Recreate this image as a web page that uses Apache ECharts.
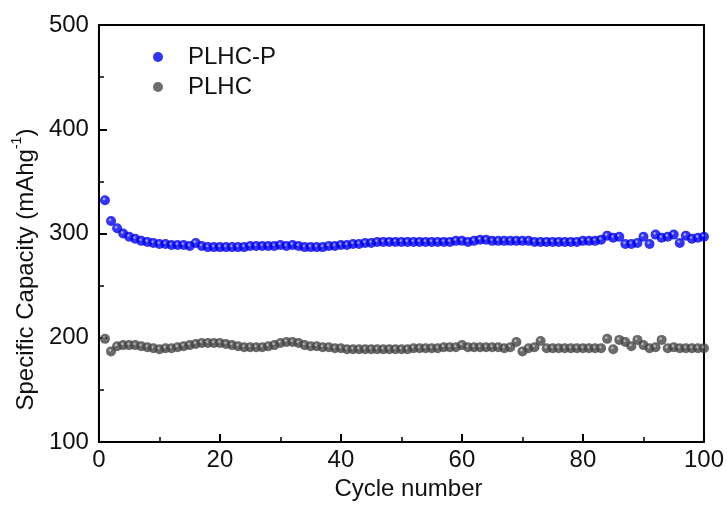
<!DOCTYPE html>
<html>
<head>
<meta charset="utf-8">
<script src="https://cdn.jsdelivr.net/npm/echarts@6/dist/echarts.min.js"></script>
<style>html,body{margin:0;padding:0;background:#fff;}#c{width:727px;height:506px;}</style>
</head>
<body>
<div id="c"></div>
<script>
const cycles = Array.from({length: 100}, (_, i) => i + 1);
const plhcP = [332,312,305,300,297,295,293,292,291,290,
290,289,289,289,288,291,288,287,287,287,
287,287,287,287,288,288,288,288,288,289,
288,289,288,287,287,287,287,288,288,289,
289,290,290,291,291,292,292,292,292,292,
292,292,292,292,292,292,292,292,293,293,
292,293,294,294,293,293,293,293,293,293,
293,292,292,292,292,292,292,292,292,293,
293,293,294,298,296,297,290,290,291,297,
290,299,296,297,299,291,298,295,296,297];
const plhc = [199,187,192,193,193,193,192,191,190,189,
190,190,191,192,193,194,195,195,195,195,
194,193,192,191,191,191,191,192,193,195,
196,196,195,193,192,192,191,191,190,190,
189,189,189,189,189,189,189,189,189,189,
189,190,190,190,190,190,191,191,191,193,
191,191,191,191,191,191,190,191,196,187,
190,191,197,190,190,190,190,190,190,190,
190,190,190,199,189,198,196,192,198,193,
190,191,198,190,191,190,190,190,190,190];
const xTicks = [0,20,40,60,80,100];
const yTicks = [100,200,300,400,500];

function ball(c1, c2) {
  return {type:'radial', x:0.4, y:0.38, r:0.65,
    colorStops:[{offset:0,color:c1},{offset:0.3,color:c2},{offset:1,color:c2}]};
}
const blueBall = ball('#c0c0ff', '#0000f0');
const grayBall = ball('#d0d0d0', '#444444');

const chart = echarts.init(document.getElementById('c'));
const font = 'Liberation Sans, Arial, sans-serif';
chart.setOption({
  animation: false,
  backgroundColor: '#fff',
  grid: {left: 95, right: 23, top: 25, bottom: 58, show: true, borderColor: '#000', borderWidth: 2, backgroundColor: 'transparent'},
  legend: {
    orient: 'vertical', left: 148, top: 40, itemGap: 6,
    itemWidth: 10, itemHeight: 10,
    textStyle: {fontFamily: font, fontSize: 24, color: '#111', padding: [0,0,0,20]},
    data: [
      {name: 'PLHC-P', icon: 'circle', itemStyle: {color: '#0000f0'}},
      {name: 'PLHC', icon: 'circle', itemStyle: {color: '#4a4a4a'}}
    ]
  },
  xAxis: {
    type: 'value', min: 0, max: 100, interval: 20,
    name: 'Cycle number', nameLocation: 'middle', nameGap: 34,
    nameTextStyle: {fontFamily: font, fontSize: 24, color: '#111', padding: [0,0,0,14]},
    axisLine: {lineStyle: {color: '#000', width: 2}},
    axisTick: {inside: true, length: 8, lineStyle: {color: '#000', width: 2}},
    minorTick: {show: true, splitNumber: 2, length: 5, lineStyle: {color: '#000', width: 1.5}},
    axisLabel: {fontFamily: font, fontSize: 24, color: '#111', margin: 6,
      formatter: v => xTicks.includes(v) ? String(v) : ''},
    splitLine: {show: false}
  },
  yAxis: {
    type: 'value', min: 100, max: 500, interval: 100,
    name: '{a|Specific Capacity (mAhg}{s|-1}{a|)}', nameLocation: 'middle', nameGap: 58,
    nameTextStyle: {
      fontFamily: font, fontSize: 24, color: '#111', padding: [0,72,0,0],
      rich: {
        a: {fontFamily: font, fontSize: 24, color: '#111', lineHeight: 30, verticalAlign: 'bottom'},
        s: {fontFamily: font, fontSize: 14, color: '#111', lineHeight: 30, verticalAlign: 'top', padding: [2,0,0,0]}
      }
    },
    axisLine: {lineStyle: {color: '#000', width: 2}},
    axisTick: {inside: true, length: 8, lineStyle: {color: '#000', width: 2}},
    minorTick: {show: true, splitNumber: 2, length: 5, lineStyle: {color: '#000', width: 1.5}},
    axisLabel: {fontFamily: font, fontSize: 24, color: '#111', margin: 10,
      formatter: v => yTicks.includes(v) ? String(v) : ''},
    splitLine: {show: false}
  },
  series: [
    {name: 'PLHC-P', type: 'scatter', symbol: 'circle', symbolSize: 10,
     data: cycles.map((c, i) => [c, plhcP[i]]), itemStyle: {color: blueBall}},
    {name: 'PLHC', type: 'scatter', symbol: 'circle', symbolSize: 10,
     data: cycles.map((c, i) => [c, plhc[i]]), itemStyle: {color: grayBall}}
  ]
});
</script>
</body>
</html>
